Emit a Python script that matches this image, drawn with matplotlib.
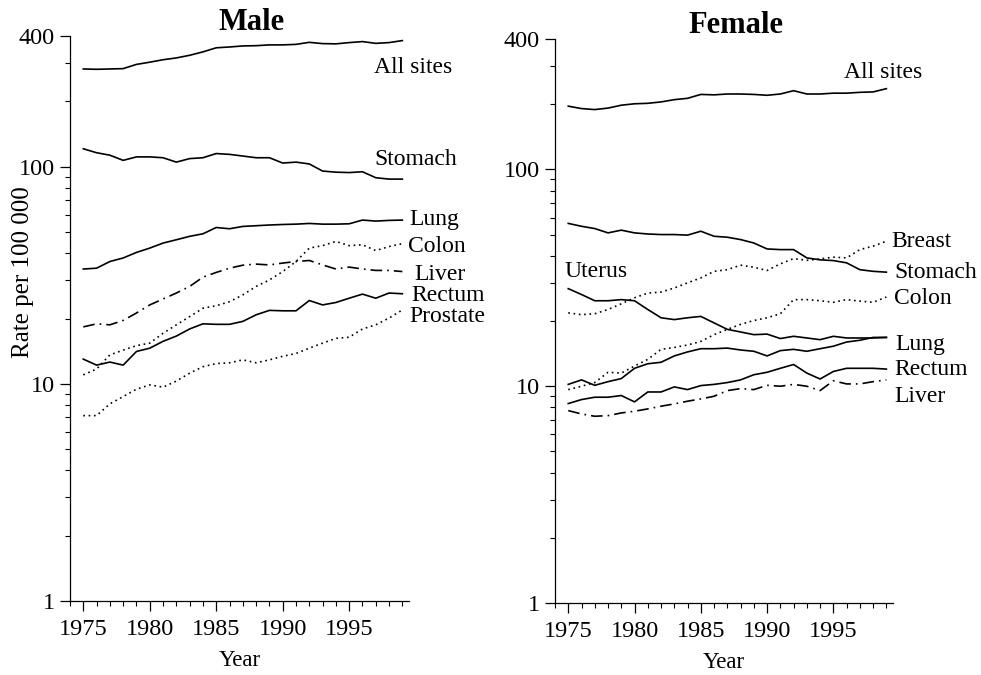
import numpy as np
import matplotlib
matplotlib.use("Agg")
import matplotlib.pyplot as plt
from matplotlib.ticker import FixedLocator, LogLocator, NullFormatter, MultipleLocator

plt.rcParams['font.family'] = ['Liberation Serif', 'DejaVu Serif']

years = list(range(1975, 2000))

# male rates per 100 000
male_all = [282, 281, 282, 283, 296, 303, 311, 317, 326, 338, 353, 356, 360,
            361, 364, 364, 366, 374, 369, 368, 373, 377, 370, 373, 381]
male_stomach = [121, 116, 113, 107, 111, 111, 110, 105, 109, 110, 115, 114, 112,
                110, 110, 104, 105, 103, 95.5, 94.4, 94, 94.8, 89, 87.7, 87.7]
male_lung = [33.8, 34.1, 36.6, 38.0, 40.3, 42.2, 44.5, 46.1, 47.8, 49.1, 52.5, 51.8, 53.1,
             53.5, 53.9, 54.2, 54.4, 54.8, 54.4, 54.4, 54.6, 56.8, 56.2, 56.6, 56.8]
male_colon = [11.0, 11.7, 13.6, 14.3, 15.0, 15.4, 17.1, 18.7, 20.4, 22.3, 22.9, 23.9, 25.7,
              28.1, 30.1, 32.9, 36.6, 42.2, 43.3, 45.3, 43.3, 43.7, 41.1, 42.9, 44.2]
male_liver = [18.3, 18.9, 18.7, 19.6, 21.2, 23.1, 24.6, 26.2, 28.1, 31.0, 32.6, 34.1, 35.2,
              35.6, 35.3, 36.0, 36.6, 37.0, 35.3, 33.8, 34.5, 33.8, 33.3, 33.3, 32.9]
male_rectum = [13.0, 12.2, 12.6, 12.2, 14.1, 14.6, 15.7, 16.6, 17.9, 18.9, 18.8, 18.8, 19.4,
               20.8, 21.8, 21.7, 21.7, 24.2, 23.1, 23.7, 24.8, 25.9, 24.8, 26.2, 26.0]
male_prostate = [7.14, 7.14, 8.09, 8.74, 9.45, 9.89, 9.66, 10.3, 11.2, 12.0, 12.4, 12.5, 12.9,
                 12.5, 12.9, 13.4, 13.8, 14.6, 15.4, 16.2, 16.4, 17.9, 18.7, 20.1, 21.9]

# female rates per 100 000
female_all = [196, 191, 189, 192, 198, 201, 202, 205, 210, 213, 222, 221, 223,
              223, 222, 220, 223, 231, 223, 223, 225, 225, 227, 228, 236]
female_stomach = [56.4, 54.7, 53.4, 51.0, 52.5, 51.0, 50.4, 50.1, 50.1, 49.8, 51.9, 49.2, 48.7,
                  47.5, 45.8, 43.0, 42.7, 42.7, 39.1, 38.3, 38.0, 37.1, 34.5, 33.9, 33.6]
female_breast = [21.8, 21.4, 21.6, 22.6, 24.0, 25.6, 26.9, 27.2, 28.4, 30.0, 31.6, 33.9, 34.5,
                 36.2, 35.4, 34.2, 36.7, 38.8, 38.1, 38.7, 39.4, 39.1, 42.7, 44.3, 46.7]
female_uterus = [28.2, 26.5, 24.8, 24.8, 25.1, 24.8, 22.6, 20.7, 20.3, 20.7, 21.0, 19.6, 18.3,
                 17.8, 17.3, 17.4, 16.6, 17.0, 16.7, 16.4, 17.0, 16.7, 16.7, 16.7, 16.8]
female_colon = [9.65, 10.0, 10.4, 11.6, 11.5, 12.4, 13.3, 14.8, 15.1, 15.5, 16.1, 17.3, 18.3,
                19.3, 20.1, 20.7, 21.6, 25.1, 25.1, 24.8, 24.4, 25.1, 24.7, 24.4, 25.8]
female_lung = [10.2, 10.7, 10.1, 10.5, 10.85, 12.1, 12.7, 12.9, 13.8, 14.4, 14.9, 14.9, 15.0,
               14.7, 14.5, 13.8, 14.6, 14.8, 14.5, 14.9, 15.3, 16.0, 16.3, 16.8, 16.8]
female_rectum = [8.32, 8.68, 8.9, 8.9, 9.06, 8.47, 9.41, 9.41, 9.93, 9.65, 10.07, 10.2, 10.4,
                 10.7, 11.3, 11.6, 12.1, 12.6, 11.5, 10.8, 11.7, 12.1, 12.1, 12.1, 12.0]
female_liver = [7.72, 7.45, 7.27, 7.32, 7.53, 7.67, 7.86, 8.09, 8.29, 8.53, 8.74, 8.99, 9.55,
                9.75, 9.65, 10.1, 10.0, 10.2, 10.0, 9.55, 10.6, 10.25, 10.25, 10.5, 10.7]

solid = '-'
dotted = (0, (1, 2.2))
dashdot = (0, (7, 3, 1, 3))

male_series = [
    (male_all, solid, 'All sites', 1996.9, 286),
    (male_stomach, solid, 'Stomach', 1996.9, 108),
    (male_lung, solid, 'Lung', 1999.5, 57),
    (male_colon, dotted, 'Colon', 1999.4, 42.8),
    (male_liver, dashdot, 'Liver', 1999.9, 31.8),
    (male_rectum, solid, 'Rectum', 1999.7, 25.5),
    (male_prostate, dotted, 'Prostate', 1999.5, 20.4),
]
female_series = [
    (female_all, solid, 'All sites', 1995.8, 281),
    (female_breast, dotted, 'Breast', 1999.4, 46.6),
    (female_stomach, solid, 'Stomach', 1999.6, 33.6),
    (female_colon, dotted, 'Colon', 1999.6, 25.5),
    (female_uterus, solid, 'Uterus', 1974.7, 34.0),
    (female_lung, solid, 'Lung', 1999.7, 15.6),
    (female_rectum, solid, 'Rectum', 1999.6, 12.0),
    (female_liver, dashdot, 'Liver', 1999.6, 9.0),
]

fig = plt.figure(figsize=(9.81, 6.75), dpi=100)
ax1 = fig.add_axes([70 / 981, 1 - 601 / 675, 339 / 981, 565 / 675])
ax2 = fig.add_axes([555 / 981, 1 - 603 / 675, 338 / 981, 564 / 675])


def style_axis(ax):
    ax.set_yscale('log')
    ax.set_ylim(1, 400)
    ax.set_xlim(1974, 1999.5)
    for s in ['top', 'right']:
        ax.spines[s].set_visible(False)
    for s in ['left', 'bottom']:
        ax.spines[s].set_linewidth(0.9)
    ax.yaxis.set_major_locator(FixedLocator([1, 10, 100, 400]))
    ax.set_yticklabels(['1', '10', '100', '400'])
    ax.yaxis.set_minor_locator(LogLocator(base=10, subs=np.arange(2, 10)))
    ax.yaxis.set_minor_formatter(NullFormatter())
    ax.xaxis.set_major_locator(FixedLocator([1975, 1980, 1985, 1990, 1995]))
    ax.xaxis.set_minor_locator(MultipleLocator(1))
    ax.tick_params(which='major', direction='out', length=7, width=0.9,
                   labelsize=17.5, pad=4)
    ax.tick_params(axis='x', which='major', pad=6)
    ax.tick_params(which='minor', direction='out', length=3.5, width=0.8)
    ax.set_xlabel('Year', fontsize=16.5, labelpad=7)


for ax, series, title, tx in [(ax1, male_series, 'Male', 0.537),
                              (ax2, female_series, 'Female', 0.536)]:
    style_axis(ax)
    for vals, ls, name, lx, ly in series:
        ax.plot(years, vals, color='black', linestyle=ls, linewidth=1.2)
        ax.text(lx, ly, name, fontsize=17, ha='left', va='center',
                clip_on=False)
    ax.text(tx, 1.024, title, transform=ax.transAxes, fontsize=22,
            fontweight='bold', ha='center', va='center')

ax1.set_ylabel('Rate per 100 000', fontsize=18)
ax1.yaxis.set_label_coords(-0.105, 0.582)

fig.savefig('out.png', dpi=100, facecolor='white')
